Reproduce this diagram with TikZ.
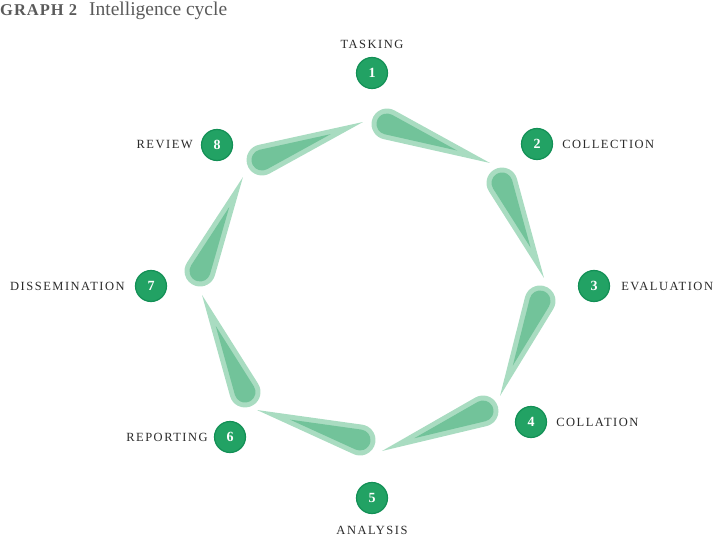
\documentclass[tikz,border=0pt]{standalone}
\usepackage{fontspec}
\setmainfont{Liberation Serif}
\usetikzlibrary{calc}
\definecolor{dropout}{HTML}{A9DCC1}
\definecolor{dropin}{HTML}{72C39A}
\definecolor{numfill}{HTML}{22A264}
\definecolor{numdraw}{HTML}{139056}
\definecolor{titlegray}{HTML}{5A5A5A}
\definecolor{labtext}{HTML}{2A2A2A}
\newcommand\tdrop[4]{%
  \pgfmathsetmacro\tdL{veclen(#3-#1,#4-#2)}%
  \pgfmathsetmacro\tdA{atan2(-(#4-#2),#3-#1)}%
  \pgfmathsetmacro\tdT{acos(15.5/\tdL)}%
  \pgfmathsetmacro\tdLi{0.68*\tdL}%
  \pgfmathsetmacro\tdTi{acos(10.5/\tdLi)}%
  \begin{scope}[shift={(#1,#2)},rotate=\tdA]
    \fill[dropout] (\tdL,0) -- (\tdT:15.5) arc[start angle=\tdT,end angle=360-\tdT,radius=15.5] -- cycle;
    \fill[dropin] (\tdLi,0) -- (\tdTi:10.5) arc[start angle=\tdTi,end angle=360-\tdTi,radius=10.5] -- cycle;
  \end{scope}}
\tikzset{
  num/.style={circle,fill=numfill,draw=numdraw,line width=1.2pt,minimum size=31pt,inner sep=0pt,text=white,font=\bfseries\fontsize{14}{14}\selectfont},
  lab/.style={inner sep=0pt,text=labtext,font=\addfontfeatures{LetterSpace=12}\fontsize{12.5}{14}\selectfont},
}
\begin{document}
\begin{tikzpicture}[x=1pt,y=-1pt]
\useasboundingbox (0,0) rectangle (720,540);
\node[anchor=north west,inner sep=0pt,text=titlegray] (title) at (0,1.5)
  {{\bfseries\addfontfeatures{LetterSpace=6}\fontsize{16.5}{18}\selectfont GRAPH 2}\hspace{12pt}{\fontsize{19.5}{21}\selectfont Intelligence cycle}};
% teardrops
\tdrop{387}{124}{490}{163}
\tdrop{502}{183}{544}{278}
\tdrop{540}{301}{500}{396}
\tdrop{483}{411}{382}{451}
\tdrop{360}{440}{257}{410}
\tdrop{245}{392}{202}{295}
\tdrop{200}{271}{243}{177}
\tdrop{262}{160}{363}{122}
% numbers
\node[num] (n1) at (372,73) {1};
\node[num] (n2) at (537,144) {2};
\node[num] (n3) at (594,286) {3};
\node[num] (n4) at (531,422) {4};
\node[num] (n5) at (372,498) {5};
\node[num] (n6) at (230,437) {6};
\node[num] (n7) at (151,286) {7};
\node[num] (n8) at (217,145) {8};
% labels
\node[lab,anchor=south] (l1) at ([yshift=8pt]n1.north) {TASKING};
\node[lab,anchor=west] (l2) at ([xshift=9pt]n2.east) {COLLECTION};
\node[lab,anchor=west] (l3) at ([xshift=11pt]n3.east) {EVALUATION};
\node[lab,anchor=west] (l4) at ([xshift=9pt]n4.east) {COLLATION};
\node[lab,anchor=north] (l5) at ([yshift=-12pt]n5.south) {ANALYSIS};
\node[lab,anchor=east] (l6) at ([xshift=-6pt]n6.west) {REPORTING};
\node[lab,anchor=east] (l7) at ([xshift=-10pt]n7.west) {DISSEMINATION};
\node[lab,anchor=east] (l8) at ([xshift=-8pt]n8.west) {REVIEW};
\end{tikzpicture}
\end{document}
